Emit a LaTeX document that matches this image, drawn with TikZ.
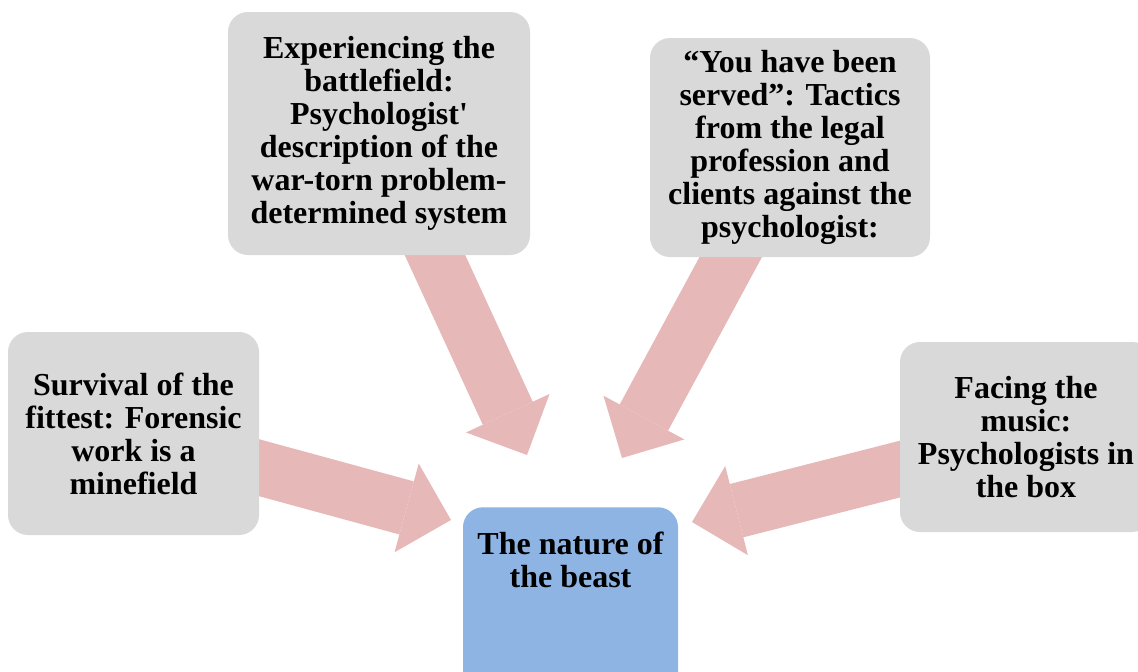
\documentclass[tikz,border=0pt]{standalone}
\usepackage{fontspec}
\setmainfont{Liberation Serif}
\usetikzlibrary{arrows.meta}
\pgfdeclarelayer{background}
\pgfsetlayers{background,main}

\begin{document}
\begin{tikzpicture}[x=0.75pt,y=0.75pt,yscale=-1,xscale=1,
  theme/.style={fill={rgb, 255:red, 217; green, 217; blue, 217 }, rounded corners=15pt, align=center, inner sep=0pt, font=\fontsize{24}{24.75}\selectfont\bfseries},
  core/.style={theme, fill={rgb, 255:red, 142; green, 180; blue, 227 }},
  bigarrow/.style={draw={rgb, 255:red, 230; green, 184; blue, 183 }, line width=41.25pt, -{Triangle[length=34.5pt,width=69pt,line width=0pt]}}]
%set diagram size 1138 x 671
\clip (0,0) rectangle (1138,671);

%Shape: Rounded Rect [id:battle] 
\node [theme, minimum width=226.5pt, minimum height=182.25pt] (battle) at (379,133.5) {Experiencing the\\battlefield:\\Psychologist\textquotesingle\\description of the\\war-torn problem-\\determined system};
%Shape: Rounded Rect [id:served] 
\node [theme, minimum width=210pt, minimum height=164.25pt] (served) at (790,147.5) {“You have been\\served”: Tactics\\from the legal\\profession and\\clients against the\\psychologist:};
%Shape: Rounded Rect [id:survival] 
\node [theme, minimum width=188.25pt, minimum height=152.25pt] (survival) at (133.5,433.5) {Survival of the\\fittest: Forensic\\work is a\\minefield};
%Shape: Rounded Rect [id:music] 
\node [theme, minimum width=189pt, minimum height=142.5pt] (music) at (1026,437) {Facing the\\music:\\Psychologists in\\the box};
%Shape: Rounded Rect [id:nature] 
\node [core, anchor=north, minimum width=161.25pt, inner ysep=18.75pt, text depth=110pt] (nature) at (570.5,507) {The nature of\\the beast};

%Arrow tips
\coordinate (tipbattle) at (527,455);
\coordinate (tipserved) at (622,458);
\coordinate (tipsurvival) at (451,520);
\coordinate (tipmusic) at (692,522);

%Block Arrows
\begin{pgfonlayer}{background}
\draw [bigarrow] (battle.center) -- (tipbattle);
\draw [bigarrow] (served.center) -- (tipserved);
\draw [bigarrow] (survival.center) -- (tipsurvival);
\draw [bigarrow] (music.center) -- (tipmusic);
\end{pgfonlayer}
\end{tikzpicture}
\end{document}
